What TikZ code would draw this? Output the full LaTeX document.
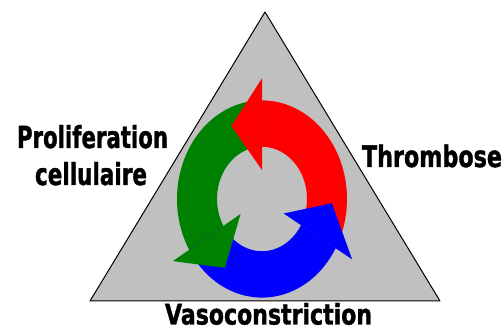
\documentclass[tikz,border=0pt]{standalone}
\usepackage{fontspec}
\setmainfont{DejaVu Sans}
\newfontfamily\labfont[BoldFeatures={FakeBold=1.5}]{DejaVu Sans}
\definecolor{trigray}{RGB}{192,192,192}
\definecolor{cred}{RGB}{255,0,0}
\definecolor{cgreen}{RGB}{0,128,0}
\definecolor{cblue}{RGB}{0,0,255}
\begin{document}
\begin{tikzpicture}[x=1pt,y=-1pt,
  lab/.style={anchor=base west, inner sep=0pt, outer sep=0pt, font=\labfont\bfseries}]
\useasboundingbox (0,0) rectangle (504,328);
% triangle
\coordinate (apex) at (265,12);
\coordinate (bl) at (90,301);
\coordinate (br) at (440,301);
\filldraw[fill=trigray, draw=black, line width=1pt, line join=round] (apex) -- (br) -- (bl) -- cycle;
% circular arrows
\begin{scope}[shift={(262,199)}, yscale=-1.16]
  % bodies
  \fill[cred] plot[domain=330:450,samples=60] ({45*cos(\x)},{45*sin(\x)})
     -- plot[domain=450:330,samples=60] ({85*cos(\x)},{85*sin(\x)}) -- cycle;
  \fill[cgreen] plot[domain=90:211,samples=60] ({45*cos(\x)},{45*sin(\x)})
     -- plot[domain=211:90,samples=60] ({85*cos(\x)},{85*sin(\x)}) -- cycle;
  \fill[cblue] plot[domain=211:330,samples=60] ({45*cos(\x)},{45*sin(\x)})
     -- plot[domain=330:211,samples=60] ({85*cos(\x)},{85*sin(\x)}) -- cycle;
  % heads
  \fill[cred] (90:25) -- (90:104) -- (116:70) -- cycle;
  \fill[cgreen] (211:25) -- (211:104) -- (238:70) -- cycle;
  \fill[cblue] (330:25) -- (330:104) -- (357:70) -- cycle;
\end{scope}
% labels
\node[lab] (prolif) at (17,148) {\resizebox{151pt}{23pt}{Proliferation}};
\node[lab] (cellu) at (35,185) {\resizebox{112pt}{23pt}{cellulaire}};
\node[lab] (thromb) at (362,167) {\resizebox{140pt}{22.5pt}{Thrombose}};
\node[lab] (vaso) at (165,324.5) {\resizebox{207pt}{21.5pt}{Vasoconstriction}};
\end{tikzpicture}
\end{document}
